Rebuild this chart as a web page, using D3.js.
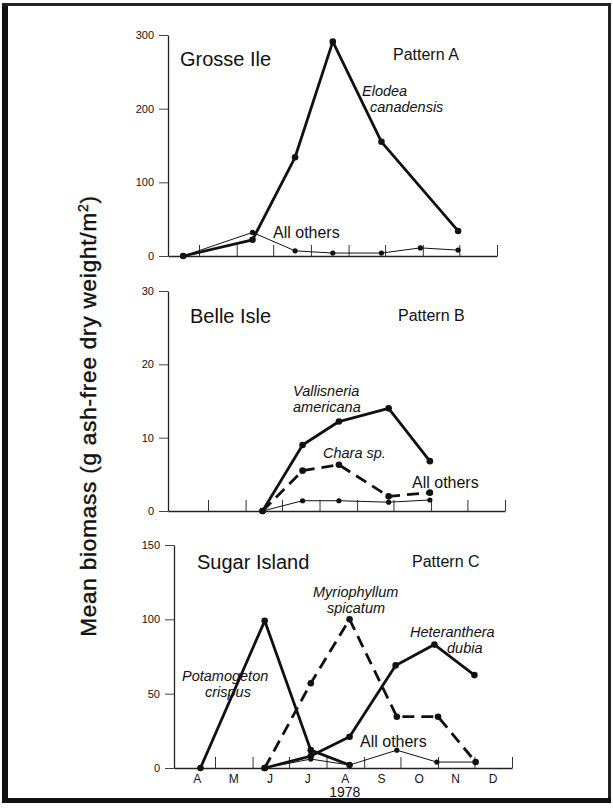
<!DOCTYPE html>
<html>
<head>
<meta charset="utf-8">
<script src="https://cdn.jsdelivr.net/npm/d3@7"></script>
<style>
  body { margin: 0; background: #fff; }
  svg { display: block; }
  text { font-family: "Liberation Sans", Arial, Helvetica, sans-serif; fill: #111; }
</style>
</head>
<body>
<div id="chart"></div>
<script>
// ---- data ----
var monthLabels = ["A", "M", "J", "J", "A", "S", "O", "N", "D"];
var monthStarts = ["1978-05-01", "1978-06-01", "1978-07-01", "1978-08-01", "1978-09-01",
                   "1978-10-01", "1978-11-01", "1978-12-01", "1979-01-01"];
var monthMids = ["1978-04-16", "1978-05-16", "1978-06-15", "1978-07-16", "1978-08-16",
                 "1978-09-15", "1978-10-16", "1978-11-15", "1978-12-16"];

var siteNames = ["Grosse Ile", "Belle Isle", "Sugar Island"];
var patternNames = ["Pattern A", "Pattern B", "Pattern C"];
var yMaxes = [300, 30, 150];
var yTickValues = [[0, 100, 200, 300], [0, 10, 20, 30], [0, 50, 100, 150]];

// Grosse Ile
var elodeaDates = ["1978-04-18", "1978-06-14", "1978-07-19", "1978-08-19", "1978-09-28", "1978-11-30"];
var elodeaValues = [0, 22, 134, 291, 155, 34];
var grosseOtherDates = ["1978-04-18", "1978-06-14", "1978-07-19", "1978-08-19", "1978-09-28", "1978-10-30", "1978-11-30"];
var grosseOtherValues = [0, 32, 7, 4, 4, 11, 8];

// Belle Isle
var belleDates = ["1978-06-15", "1978-07-18", "1978-08-17", "1978-09-27", "1978-10-31"];
var vallisneriaValues = [0, 9.0, 12.2, 14.0, 6.8];
var charaValues = [0, 5.5, 6.3, 2.0, 2.5];
var belleOtherValues = [0, 1.4, 1.4, 1.2, 1.5];

// Sugar Island
var potamogetonDates = ["1978-04-19", "1978-06-11", "1978-07-19", "1978-08-20"];
var potamogetonValues = [0, 99, 12, 2];
var myriophyllumDates = ["1978-06-11", "1978-07-19", "1978-08-20", "1978-09-28", "1978-11-01", "1978-12-02"];
var myriophyllumValues = [0, 57, 100, 34.5, 34.5, 4];
var heterantheraDates = ["1978-06-11", "1978-07-19", "1978-08-20", "1978-09-27", "1978-10-29", "1978-12-01"];
var heterantheraValues = [0, 8, 21, 69, 83, 62.5];
var sugarOtherDates = ["1978-06-11", "1978-07-19", "1978-08-20", "1978-09-28", "1978-10-31", "1978-12-02"];
var sugarOtherValues = [0, 6, 2, 12, 4, 4];

// ---- layout ----
var width = 613, height = 808;
var parse = d3.timeParse("%Y-%m-%d");

// the scan is a little skewed, so every panel has its own frame
var panels = [
  { axisX: 168, may1X: 199, jan1X: 497, yTop: 35, yZero: 256 },
  { axisX: 168, may1X: 208, jan1X: 505, yTop: 291, yZero: 511 },
  { axisX: 174, may1X: 215, jan1X: 512, yTop: 545, yZero: 768 }
];

var series = [
  [
    { type: "thin", dates: grosseOtherDates, values: grosseOtherValues },
    { type: "heavy", dates: elodeaDates, values: elodeaValues }
  ],
  [
    { type: "thin", dates: belleDates, values: belleOtherValues },
    { type: "dashed", dates: belleDates, values: charaValues },
    { type: "heavy", dates: belleDates, values: vallisneriaValues }
  ],
  [
    { type: "thin", dates: sugarOtherDates, values: sugarOtherValues },
    { type: "dashed", dates: myriophyllumDates, values: myriophyllumValues },
    { type: "heavy", dates: potamogetonDates, values: potamogetonValues },
    { type: "heavy", dates: heterantheraDates, values: heterantheraValues }
  ]
];

// annotation lines [text, x, y, italic]
var notes = [
  [
    ["Elodea", 362, 96, true], ["canadensis", 370, 112, true], ["All others", 273, 238, false]
  ],
  [
    ["Vallisneria", 293, 396, true], ["americana", 293, 412, true],
    ["Chara sp.", 323, 458, true], ["All others", 412, 488, false]
  ],
  [
    ["Myriophyllum", 313, 597, true], ["spicatum", 327, 613, true],
    ["Heteranthera", 410, 637, true], ["dubia", 447, 653, true],
    ["Potamogeton", 182, 681, true], ["crispus", 205, 697, true],
    ["All others", 360, 747, false]
  ]
];
var titlePos = [[180, 66], [190, 323], [197, 569]];
var patternPos = [[393, 60], [398, 321], [412, 567]];

var svg = d3.select("#chart").append("svg")
  .attr("width", width)
  .attr("height", height);

svg.append("rect").attr("width", width).attr("height", height).attr("fill", "#fff");

// frame of the scanned figure
svg.append("line").attr("x1", 5).attr("x2", 5).attr("y1", 3).attr("y2", 803)
  .attr("stroke", "#111").attr("stroke-width", 6);
svg.append("line").attr("x1", 2).attr("x2", 611).attr("y1", 4.5).attr("y2", 4.5)
  .attr("stroke", "#222").attr("stroke-width", 3);
svg.append("line").attr("x1", 609.5).attr("x2", 609.5).attr("y1", 3).attr("y2", 803)
  .attr("stroke", "#222").attr("stroke-width", 3);
svg.append("line").attr("x1", 2).attr("x2", 611).attr("y1", 800.5).attr("y2", 800.5)
  .attr("stroke", "#111").attr("stroke-width", 5);

panels.forEach(function (p, i) {
  var g = svg.append("g");

  var x = d3.scaleTime()
    .domain([parse(monthStarts[0]), parse(monthStarts[8])])
    .range([p.may1X, p.jan1X]);
  x.domain([x.invert(p.axisX), parse(monthStarts[8])]).range([p.axisX, p.jan1X]);

  var y = d3.scaleLinear().domain([0, yMaxes[i]]).range([p.yZero, p.yTop]);

  // x axis: month boundaries as inward ticks
  var xAxis = g.append("g")
    .attr("transform", "translate(0," + p.yZero + ")")
    .call(d3.axisTop(x)
      .tickValues(monthStarts.map(parse))
      .tickSizeInner(11)
      .tickSizeOuter(0)
      .tickFormat(""));
  xAxis.select(".domain").attr("stroke", "#222").attr("stroke-width", 1.3);
  xAxis.selectAll(".tick line").attr("stroke", "#333").attr("stroke-width", 1);

  // y axis
  var yAxis = g.append("g")
    .attr("transform", "translate(" + p.axisX + ",0)")
    .call(d3.axisLeft(y)
      .tickValues(yTickValues[i])
      .tickSizeInner(9)
      .tickSizeOuter(0)
      .tickPadding(5));
  yAxis.select(".domain").attr("stroke", "#222").attr("stroke-width", 1.3);
  yAxis.selectAll(".tick line").attr("stroke", "#444").attr("stroke-width", 1);
  yAxis.selectAll(".tick text")
    .style("font-family", '"Liberation Sans", Arial, sans-serif')
    .style("font-size", "11px")
    .attr("fill", "#444");

  // month labels under the last panel
  if (i === 2) {
    var lab = g.append("g")
      .attr("transform", "translate(0," + p.yZero + ")")
      .call(d3.axisBottom(x)
        .tickValues(monthMids.map(parse))
        .tickSize(0)
        .tickPadding(6)
        .tickFormat(function (d, k) { return monthLabels[k]; }));
    lab.select(".domain").remove();
    lab.selectAll(".tick text")
      .style("font-family", '"Liberation Sans", Arial, sans-serif')
      .style("font-size", "12px")
      .attr("fill", "#111");
    g.append("text")
      .attr("x", x(parse("1978-08-16")))
      .attr("y", 797)
      .attr("text-anchor", "middle")
      .style("font-size", "14px")
      .text("1978");
  }

  var line = d3.line()
    .x(function (d) { return x(d.date); })
    .y(function (d) { return y(d.value); });

  series[i].forEach(function (s) {
    var pts = s.dates.map(function (d, k) { return { date: parse(d), value: s.values[k] }; });
    var path = g.append("path")
      .datum(pts)
      .attr("d", line)
      .attr("fill", "none")
      .attr("stroke", "#111")
      .attr("stroke-linejoin", "round");
    if (s.type === "thin") {
      path.attr("stroke-width", 1);
    } else if (s.type === "dashed") {
      path.attr("stroke-width", 2.8).attr("stroke-dasharray", "12,7");
    } else {
      path.attr("stroke-width", 2.8);
    }
    g.selectAll(null)
      .data(pts)
      .enter().append("circle")
      .attr("cx", function (d) { return x(d.date); })
      .attr("cy", function (d) { return y(d.value); })
      .attr("r", s.type === "thin" ? 2.6 : 3.3)
      .attr("fill", "#111");
  });

  g.append("text")
    .attr("x", titlePos[i][0]).attr("y", titlePos[i][1])
    .style("font-size", "20px")
    .text(siteNames[i]);
  g.append("text")
    .attr("x", patternPos[i][0]).attr("y", patternPos[i][1])
    .style("font-size", "16px")
    .text(patternNames[i]);

  notes[i].forEach(function (n) {
    g.append("text")
      .attr("x", n[1]).attr("y", n[2])
      .style("font-size", n[3] ? "14.5px" : "16px")
      .style("font-style", n[3] ? "italic" : "normal")
      .text(n[0]);
  });
});

// y axis title
var yt = svg.append("text")
  .attr("transform", "translate(96,416) rotate(-90)")
  .attr("text-anchor", "middle")
  .style("font-size", "22.5px")
  .style("letter-spacing", "0.8px")
  .attr("stroke", "#111")
  .attr("stroke-width", 0.4);
yt.append("tspan").text("Mean biomass (g ash-free dry weight/m");
yt.append("tspan").attr("dy", -8).style("font-size", "14px").text("2");
yt.append("tspan").attr("dy", 8).text(")");
</script>
</body>
</html>
